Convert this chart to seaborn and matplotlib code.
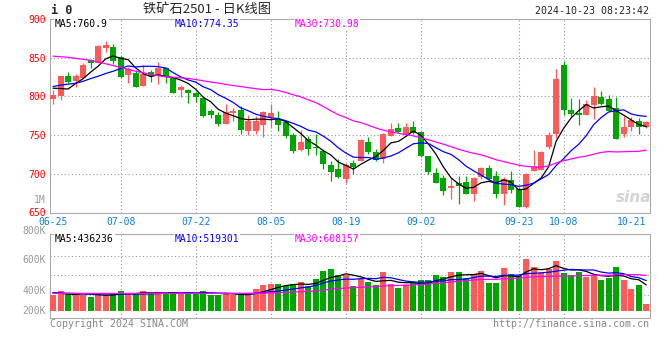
import matplotlib
matplotlib.use('Agg')
import matplotlib.pyplot as plt
import numpy as np
import pandas as pd
import seaborn as sns

# i2501 daily candles, 06-25 .. 10-23 (80 trading days)
opens = [796.4, 800.7, 826.4, 820.4, 824.3, 847.0, 843.6, 862.9, 863.7, 850.9,
         827.7, 830.7, 813.6, 831.6, 826.9, 837.1, 824.3, 808.0, 808.4, 805.0,
         798.1, 780.6, 776.3, 763.9, 778.9, 782.7, 755.7, 754.9, 762.6, 772.9,
         770.7, 766.4, 750.6, 730.9, 745.0, 735.1, 730.0, 712.0, 705.6, 693.1,
         713.7, 717.1, 740.7, 728.7, 719.7, 749.3, 759.6, 750.6, 760.9, 754.4,
         723.6, 700.4, 694.0, 681.1, 687.6, 688.9, 673.9, 695.3, 706.9, 696.6,
         673.9, 691.4, 679.9, 657.1, 703.4, 704.7, 734.3, 751.0, 840.6, 782.7,
         778.0, 775.4, 789.1, 799.4, 796.9, 785.3, 751.9, 760.9, 768.6, 760.9]
highs = [808.4, 826.4, 831.6, 829.0, 842.7, 848.7, 865.9, 871.4, 867.6, 851.7,
         838.4, 833.7, 840.6, 834.1, 844.4, 838.4, 825.0, 814.9, 809.7, 806.3,
         798.1, 783.1, 779.3, 790.4, 785.3, 787.9, 776.3, 775.0, 781.0, 790.0,
         781.0, 767.7, 753.1, 756.6, 749.3, 751.4, 732.6, 715.9, 719.7, 713.7,
         717.6, 744.5, 748.0, 731.7, 752.5, 765.6, 765.1, 766.0, 768.6, 755.7,
         723.6, 707.3, 697.9, 694.0, 696.6, 696.6, 695.3, 709.4, 712.0, 703.0,
         695.3, 703.0, 682.9, 700.4, 731.3, 730.0, 754.4, 835.4, 845.7, 798.1,
         796.9, 795.6, 812.3, 807.1, 802.0, 799.4, 775.0, 773.7, 772.4, 768.6]
lows = [790.4, 795.6, 817.4, 812.7, 823.4, 837.1, 842.7, 857.7, 841.9, 823.4,
        817.0, 812.3, 813.6, 818.7, 816.6, 817.9, 804.0, 798.6, 791.7, 793.4,
        772.9, 771.6, 761.3, 763.9, 768.6, 751.0, 749.7, 751.0, 747.1, 758.7,
        754.9, 745.9, 726.6, 729.1, 724.9, 724.9, 705.6, 690.6, 694.9, 688.0,
        699.6, 715.9, 725.7, 717.1, 713.7, 749.3, 752.3, 748.4, 751.4, 721.4,
        699.6, 688.0, 672.6, 667.0, 661.0, 673.4, 664.4, 692.7, 691.4, 668.7,
        659.7, 674.7, 657.1, 655.8, 703.4, 704.7, 731.7, 745.9, 776.3, 772.9,
        762.6, 775.4, 771.1, 788.3, 780.6, 745.4, 748.0, 755.7, 751.0, 759.6]
closes = [802.0, 826.4, 819.1, 826.4, 840.6, 843.6, 865.0, 866.3, 846.1, 825.1,
          835.0, 812.3, 828.6, 826.9, 836.3, 825.1, 805.0, 812.3, 805.0, 798.6,
          774.1, 775.4, 763.9, 780.1, 781.4, 756.1, 767.7, 767.7, 780.1, 778.0,
          762.6, 748.4, 729.1, 741.6, 732.6, 733.4, 712.4, 701.7, 695.3, 711.6,
          709.4, 743.7, 728.7, 718.0, 751.4, 757.9, 753.6, 760.9, 752.7, 722.7,
          702.1, 688.0, 677.7, 683.7, 683.7, 673.4, 694.0, 706.9, 693.1, 673.9,
          693.1, 679.0, 657.1, 699.1, 709.4, 728.7, 750.6, 822.6, 782.7, 776.7,
          775.4, 789.6, 800.7, 790.4, 781.4, 745.4, 760.9, 769.9, 760.9, 767.3]
volumes = [270, 339, 304, 270, 270, 236, 287, 270, 287, 339,
           287, 287, 339, 287, 322, 287, 322, 287, 322, 287,
           339, 270, 270, 304, 270, 270, 270, 373, 442, 459,
           459, 425, 459, 494, 425, 545, 683, 717, 614, 614,
           425, 545, 494, 442, 666, 459, 390, 442, 476, 528,
           528, 614, 580, 666, 666, 562, 631, 683, 476, 476,
           734, 631, 597, 889, 752, 654, 722, 860, 648, 614,
           671, 585, 614, 528, 562, 752, 528, 378, 442, 115]  # thousand lots

# moving averages on the first days (their history is left of the chart)
ma5_head = [810.6, 810.2, 809.5, 816.5]
ma10_head = [812.7, 814.5, 815.8, 817.0, 819.5, 823.0, 826.0, 829.5, 832.5]
ma30_head = [852.0, 851.3, 850.5, 849.2, 848.0, 846.5, 844.5, 842.2, 839.8, 837.5,
             835.0, 832.5, 830.5, 828.5, 826.8, 825.3, 824.8, 824.0, 823.3, 821.8,
             820.2, 818.5, 817.3, 815.5, 814.0, 812.8, 811.3, 810.0, 808.7]
vma5_head = [310, 300, 285, 280]
vma10_head = [305, 305, 300, 295, 290, 288, 288, 288, 288]
vma30_head = [298, 298, 298, 298, 298, 297, 297, 297, 297, 297,
              297, 297, 297, 297, 297, 297, 297, 297, 297, 297,
              297, 297, 298, 298, 298, 299, 300, 301, 303]

date_ticks = [0, 9, 19, 29, 39, 49, 62, 68, 77]
date_labels = ['06-25', '07-08', '07-22', '08-05', '08-19', '09-02', '09-23', '10-08', '10-21']
price_ticks = [900, 850, 800, 750, 700, 650]
vol_labels = ['1M', '800K', '600K', '400K', '200K']
ma_legend = ['MA5:760.9', 'MA10:774.35', 'MA30:730.98']
vol_legend = ['MA5:436236', 'MA10:519301', 'MA30:608157']

RED = '#ff5a5a'
GREEN = '#00a600'
GRID = '#999999'
MA_COLORS = ['black', '#0000ff', '#ff00ff']

sns.set_style('white')
plt.rcParams['font.family'] = ['DejaVu Sans Mono']


def moving_avg(values, n, head):
    ma = pd.Series(values, dtype=float).rolling(n).mean()
    ma.iloc[:n - 1] = head
    return ma


df = pd.DataFrame({'i': np.arange(len(closes)), 'open': opens, 'high': highs,
                   'low': lows, 'close': closes, 'volume': np.array(volumes) * 1000})
df['dir'] = np.where(df['close'] >= df['open'], 'up', 'down')
colors = np.where(df['dir'] == 'up', RED, GREEN)

W, H = 660, 360
fig = plt.figure(figsize=(W / 100, H / 100), dpi=100)
ax = fig.add_axes([50 / W, 1 - 212.5 / H, 600 / W, 193.5 / H])
axv = fig.add_axes([50 / W, 1 - 318 / H, 600 / W, 83.7 / H])

# candles
ax.vlines(df['i'], df['low'], df['high'], colors=colors, lw=0.9, zorder=3)
body = np.maximum((df['close'] - df['open']).abs(), 0.9)
ax.bar(df['i'], body, bottom=np.minimum(df['open'], df['close']), width=0.8,
       color=colors, linewidth=0, zorder=3)

for n, head, c in zip([5, 10, 30], [ma5_head, ma10_head, ma30_head], MA_COLORS):
    sns.lineplot(x=df['i'], y=moving_avg(df['close'], n, head), color=c, lw=0.9,
                 ax=ax, zorder=4)

# volume
sns.barplot(data=df, x='i', y='volume', hue='dir', palette={'up': RED, 'down': GREEN},
            native_scale=True, dodge=False, legend=False, width=0.8, saturation=1,
            errorbar=None, linewidth=0, ax=axv, zorder=3)
for n, head, c in zip([5, 10, 30], [vma5_head, vma10_head, vma30_head], MA_COLORS):
    sns.lineplot(x=df['i'], y=moving_avg(df['volume'], n, np.array(head) * 1000),
                 color=c, lw=0.9, ax=axv, zorder=4)

grid_kw = dict(color=GRID, lw=0.8, ls=(0, (1, 2.2)), zorder=1)
for a in (ax, axv):
    a.set_xlim(-0.4, 79.5)
    a.set_xlabel('')
    a.set_ylabel('')
    for i in date_ticks[1:-1]:
        a.axvline(i, **grid_kw)
    for s in a.spines.values():
        s.set_color('#aaaaaa')
        s.set_linewidth(0.8)

ax.set_ylim(650, 900)
for y in price_ticks[1:-1]:
    ax.axhline(y, **grid_kw)
ax.set_yticks(price_ticks)
ax.set_xticks(date_ticks, date_labels)
ax.tick_params(axis='y', length=0, pad=3, labelsize=7, labelcolor='#ff0000')
ax.tick_params(axis='x', length=0, pad=3, labelsize=7, labelcolor='#0a7ee0')

axv.set_ylim(-125.6e3, 1314e3)
for y in [946e3, 614e3, 270e3]:
    axv.axhline(y, **grid_kw)
axv.set_xticks([])
axv.set_yticks([])
for lab, fy in zip(vol_labels, [1.406, 1.039, 0.693, 0.326, 0.084]):
    axv.text(-0.0067, fy, lab, transform=axv.transAxes, ha='right', va='center',
             fontsize=7, color='#999999')

# MA legends
box = dict(facecolor='white', edgecolor='none', pad=0.6)
for txt, c, fx in zip(ma_legend, MA_COLORS, [0.0083, 0.2083, 0.4083]):
    ax.text(fx, 0.9757, txt, transform=ax.transAxes, color=c, fontsize=7,
            va='center', bbox=box, zorder=6)
for txt, c, fx in zip(vol_legend, MA_COLORS, [0.0083, 0.2083, 0.4083]):
    axv.text(fx, 0.947, txt, transform=axv.transAxes, color=c, fontsize=7,
             va='center', bbox=box, zorder=6)

ax.text(0.972, 0.075, 'sina', transform=ax.transAxes, ha='center', va='center',
        fontsize=11, fontweight='bold', style='italic', color='#d4d4d4',
        family=['DejaVu Sans'], zorder=2)

fig.text(51 / W, 1 - 11 / H, 'i 0', fontsize=8.5, fontweight='bold', va='center')
fig.text(207 / W, 1 - 10 / H, '铁矿石2501 - 日K线图', fontsize=9.5, ha='center', va='center',
         family=['Noto Sans CJK SC', 'DejaVu Sans'])
fig.text(649 / W, 1 - 11.5 / H, '2024-10-23 08:23:42', fontsize=7.2, ha='right', va='center')
fig.text(50 / W, 1 - 323.7 / H, 'Copyright 2024 SINA.COM', fontsize=7.2, color='#888888',
         va='center')
fig.text(649 / W, 1 - 323.7 / H, 'http://finance.sina.com.cn', fontsize=7.2, color='#888888',
         ha='right', va='center')

fig.savefig('out.png', dpi=100)
